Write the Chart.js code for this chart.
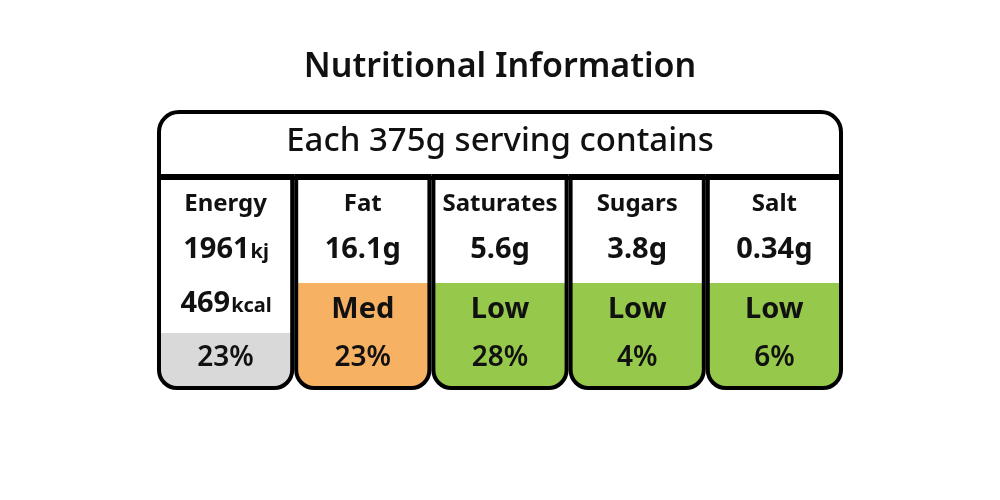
<!DOCTYPE html>
<html>
<head>
<meta charset="utf-8">
<script src="https://cdn.jsdelivr.net/npm/chart.js@4"></script>
<style>
  html, body { margin: 0; padding: 0; background: #fff; }
  #wrap { width: 1000px; height: 500px; }
</style>
</head>
<body>
<div id="wrap"><canvas id="chart" width="1000" height="500"></canvas></div>
<script>
let title = 'Nutritional Information'
let header = 'Each 375g serving contains'
let categories = ['Energy', 'Fat', 'Saturates', 'Sugars', 'Salt']
let amounts = ['1961', '16.1g', '5.6g', '3.8g', '0.34g']
let amountUnits = ['kj', '', '', '', '']
let levels = ['469', 'Med', 'Low', 'Low', 'Low']
let levelUnits = ['kcal', '', '', '', '']
let percents = ['23%', '23%', '28%', '4%', '6%']
let fillStart = [223, 173, 173, 173, 173]
let fillColors = ['#d9d9d9', '#f7b163', '#95c84b', '#95c84b', '#95c84b']

const FONT = '"Noto Sans", "Open Sans", sans-serif'

function textWithUnit(ctx, main, unit, x, y, size) {
    ctx.font = 'bold ' + size + 'px ' + FONT
    let w1 = ctx.measureText(main).width
    ctx.font = 'bold ' + Math.round(size * 0.68) + 'px ' + FONT
    let w2 = unit ? ctx.measureText(unit).width : 0
    let start = x - (w1 + w2) / 2
    ctx.textAlign = 'left'
    ctx.font = 'bold ' + size + 'px ' + FONT
    ctx.fillText(main, start, y)
    if (unit) {
        ctx.font = 'bold ' + Math.round(size * 0.68) + 'px ' + FONT
        ctx.fillText(unit, start + w1 + 1, y + size * 0.08)
    }
}

let labelPlugin = {
    id: 'label',
    afterDraw(chart) {
        let ctx = chart.ctx
        let xs = chart.scales.x, ys = chart.scales.y
        let area = chart.chartArea
        let half = (xs.getPixelForValue(1) - xs.getPixelForValue(0)) / 2
        ctx.save()
        ctx.fillStyle = '#111'
        ctx.textBaseline = 'middle'
        ctx.textAlign = 'center'
        ctx.font = '600 34px ' + FONT
        ctx.fillText(title, 500, 67)
        ctx.font = '500 33px ' + FONT
        ctx.fillText(header, 500, ys.getPixelForValue(32))

        ctx.strokeStyle = '#000'
        ctx.lineWidth = 4
        // header box with rounded top
        ctx.beginPath()
        ctx.roundRect(area.left + 2, area.top + 2, area.right - area.left - 4, ys.getPixelForValue(66) - area.top, [20, 20, 0, 0])
        ctx.stroke()
        categories.forEach((c, i) => {
            let cx = xs.getPixelForValue(i)
            ctx.beginPath()
            ctx.roundRect(cx - half + 2, ys.getPixelForValue(66), half * 2 - 4, ys.getPixelForValue(278) - ys.getPixelForValue(66), [0, 0, 18, 18])
            ctx.stroke()
            ctx.fillStyle = '#111'
            ctx.textAlign = 'center'
            ctx.font = 'bold 24px ' + FONT
            ctx.fillText(c, cx, ys.getPixelForValue(94))
            textWithUnit(ctx, amounts[i], amountUnits[i], cx, ys.getPixelForValue(140), 29)
            textWithUnit(ctx, levels[i], levelUnits[i], cx, ys.getPixelForValue(i == 0 ? 194 : 200), 29)
            ctx.textAlign = 'center'
            ctx.font = '600 28px ' + FONT
            ctx.fillText(percents[i], cx, ys.getPixelForValue(248))
        })
        ctx.restore()
    }
}

let ctx = document.getElementById('chart').getContext('2d')
let myChart = new Chart(ctx, {
    type: 'bar',
    data: {
        labels: categories,
        datasets: [{
            data: fillStart.map(s => [s, 278]),
            backgroundColor: fillColors,
            borderWidth: 0,
            borderSkipped: false,
            borderRadius: { topLeft: 0, topRight: 0, bottomLeft: 18, bottomRight: 18 },
            barPercentage: 0.97,
            categoryPercentage: 1
        }]
    },
    options: {
        responsive: false,
        animation: false,
        layout: { padding: { left: 157, right: 157, top: 110, bottom: 110 } },
        plugins: { legend: { display: false }, tooltip: { enabled: false } },
        scales: {
            x: { display: false },
            y: { display: false, min: 0, max: 280, reverse: true }
        }
    },
    plugins: [labelPlugin]
})
</script>
</body>
</html>
